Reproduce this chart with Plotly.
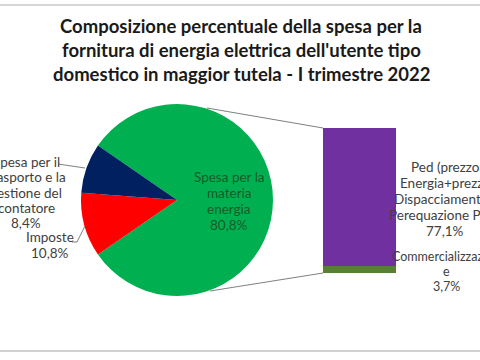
import plotly.graph_objects as go

# --- data ---
pie_labels = ["Spesa per la materia energia", "Imposte",
              "Spesa per il trasporto e la gestione del contatore"]
pie_values = [80.8, 10.8, 8.4]
pie_colors = ["#00B050", "#FF0000", "#002060"]

bar_labels = ["Commercializzazione", "Ped (prezzo Energia+prezzo Dispacciamento+ Perequazione PED)"]
bar_values = [3.7, 77.1]
bar_colors = ["#548235", "#7030A0"]

title_lines = ["Composizione percentuale della spesa per la",
               "fornitura di energia elettrica dell'utente tipo",
               "domestico in maggior tutela - I trimestre 2022"]

W, H = 480, 360
def px(x): return x / W
def py(y): return 1 - y / H

FONT = "Lato"
fig = go.Figure()

# pie: center (177,200), r 96
cx, cy, r = 177, 200, 96
fig.add_trace(go.Pie(
    labels=pie_labels, values=pie_values, sort=False, direction="clockwise",
    rotation=90 - pie_values[0] / 100 * 180,
    marker=dict(colors=pie_colors, line=dict(width=0)),
    textinfo="none", hoverinfo="label+percent", showlegend=False,
    domain=dict(x=[px(cx - r), px(cx + r)], y=[py(cy + r), py(cy - r)]),
))

# stacked bar
for lab, val, col in zip(bar_labels, bar_values, bar_colors):
    fig.add_trace(go.Bar(x=[0], y=[val], name=lab, marker=dict(color=col, line=dict(width=0)),
                         width=1, showlegend=False, xaxis="x", yaxis="y"))

total = sum(bar_values)
fig.update_layout(
    width=W, height=H, margin=dict(l=0, r=0, t=0, b=0),
    paper_bgcolor="white", plot_bgcolor="rgba(0,0,0,0)",
    barmode="stack",
    xaxis=dict(domain=[px(323), px(396)], range=[-0.5, 0.5], visible=False, fixedrange=True),
    yaxis=dict(domain=[py(273), py(128)], range=[0, total], visible=False, fixedrange=True),
    font=dict(family=FONT, color="#404040", size=13),
)

anns = []
for i, line in enumerate(title_lines):
    anns.append(dict(text="<b>%s</b>" % line, x=px(241), y=py(26 + 24 * i), xref="paper", yref="paper",
                     showarrow=False, xanchor="center", yanchor="middle",
                     font=dict(family=FONT, size=18.5, color="#1a1a1a")))

def fmt(v):
    return ("%.1f%%" % v).replace(".", ",")

def label(lines, x, y0, dy, color="#404040", size=13.5):
    for i, t in enumerate(lines):
        anns.append(dict(text=t, x=px(x), y=py(y0 + dy * i), xref="paper", yref="paper",
                         showarrow=False, xanchor="center", yanchor="middle",
                         font=dict(family=FONT, size=size, color=color)))

label(["Spesa per la", "materia", "energia", fmt(pie_values[0])], 229, 177, 16, color="#145c28")
label(["Spesa per il", "trasporto e la", "gestione del", "contatore", fmt(pie_values[2])], 26, 162, 15.3)
label(["Imposte", fmt(pie_values[1])], 50, 237, 16)
label(["Ped (prezzo", "Energia+prezzo", "Dispacciamento+", "Perequazione PED)", fmt(bar_values[1])],
      445, 167, 16)
label(["Commercializzazion", "e", fmt(bar_values[0])], 446, 256, 15, size=12.5)
fig.update_layout(annotations=anns)

shapes = []
line_style = dict(color="#7f7f7f", width=1)
# connectors pie -> bar corners
shapes.append(dict(type="line", xref="paper", yref="paper", x0=px(207), y0=py(108),
                   x1=px(323), y1=py(128), line=line_style))
shapes.append(dict(type="line", xref="paper", yref="paper", x0=px(210), y0=py(291),
                   x1=px(323), y1=py(273), line=line_style))
# leader lines
shapes.append(dict(type="path", xref="paper", yref="paper",
                   path="M %f,%f L %f,%f" % (px(58), py(164), px(85), py(168)), line=line_style))
shapes.append(dict(type="path", xref="paper", yref="paper",
                   path="M %f,%f L %f,%f L %f,%f" % (px(72), py(242), px(77), py(242), px(85), py(226)),
                   line=line_style))
# frame lines
shapes.append(dict(type="line", xref="paper", yref="paper", x0=0, x1=1, y0=py(5), y1=py(5),
                   line=dict(color="#c8c8c8", width=1.5)))
shapes.append(dict(type="line", xref="paper", yref="paper", x0=0, x1=1, y0=py(351), y1=py(351),
                   line=dict(color="#c0c0c0", width=1.5)))
fig.update_layout(shapes=shapes)

fig.write_html("out.html", config={"displayModeBar": False},
               post_script="document.body.style.margin='0';")
